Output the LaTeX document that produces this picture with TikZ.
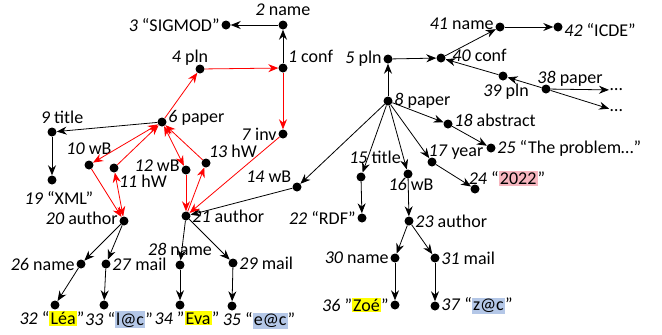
\documentclass[tikz,border=0pt]{standalone}
\usepackage{fontspec}
\setmainfont{Carlito}
\usepackage{xcolor}
\usepackage{tikz}
\usetikzlibrary{arrows.meta}

\definecolor{hlyellow}{HTML}{FFFF00}
\definecolor{hlblue}{HTML}{B4C7E7}
\definecolor{hlpink}{HTML}{F6B6BF}
\newcommand{\hlt}[2]{{\setlength{\fboxsep}{1.2pt}\colorbox{#1}{#2}}}

\begin{document}
\begin{tikzpicture}[x=1pt, y=-1pt,
    font=\fontsize{18}{21}\selectfont,
    dot/.style={circle, fill=black, inner sep=0pt, minimum size=9pt},
    every label/.style={inner sep=1.5pt},
    edgeline/.style={-{Stealth[length=10pt, width=8pt]}, line width=0.8pt},
    rededge/.style={edgeline, red},
    redboth/.style={{Stealth[length=10pt, width=8pt]}-{Stealth[length=10pt, width=8pt]}, line width=0.8pt, red}]
    \useasboundingbox (0,0) rectangle (662,335);

    % Draw left tree nodes
    \node[dot, label={[yshift=3pt]above:{\textit{2} name}}] (n2) at (283,25) {};
    \node[dot, label=left:{\textit{3} “SIGMOD”}] (n3) at (226,25) {};
    \node[dot, label=45:{\textit{1} conf}] (n1) at (283,68) {};
    \node[dot, label={[xshift=-10pt, yshift=-3pt]above:{\textit{4} pln}}] (n4) at (200,69) {};
    \node[dot, label={[yshift=4pt]right:{\textit{6} paper}}] (n6) at (162,122) {};
    \node[dot, label={[xshift=10pt, yshift=2pt]above:{\textit{9} title}}] (n9) at (52,132) {};
    \node[dot, label={[xshift=7pt, yshift=-5pt]below:{\textit{19} “XML”}}] (n19) at (52,180) {};
    \node[dot, label={[yshift=4pt]above:{\textit{10} wB}}] (n10) at (89,165) {};
    \node[dot, label={[yshift=-2pt]below right:{\textit{11} hW}}] (n11) at (114,168) {};
    \node[dot, label={[yshift=4pt]left:{\textit{12} wB}}] (n12) at (186,170) {};
    \node[dot, label={[xshift=-1pt]60:{\textit{13} hW}}] (n13) at (206,163) {};
    \node[dot, label=left:{\textit{7} inv}] (n7) at (283,134) {};
    \node[dot, label=150:{\textit{14} wB}] (n14) at (297,187) {};
    \node[dot, label={[yshift=3pt]left:{\textit{20} author}}] (n20) at (124,221) {};
    \node[dot, label=right:{\textit{21} author}] (n21) at (186,216) {};
    \node[dot, label=left:{\textit{26} name}] (n26) at (81,264) {};
    \node[dot, label=right:{\textit{27} mail}] (n27) at (106,264) {};
    \node[dot, label={[yshift=3pt]above:{\textit{28} name}}] (n28) at (180,265) {};
    \node[dot, label=right:{\textit{29} mail}] (n29) at (233,263) {};
    \node[dot, label={[xshift=-3pt]below:{\textit{32} “\hlt{hlyellow}{Léa}”}}] (n32) at (55,305) {};
    \node[dot, label={[xshift=15pt]below:{\textit{33} “\hlt{hlblue}{l@c}”}}] (n33) at (104,305) {};
    \node[dot, label={[xshift=7pt]below:{\textit{34} "\hlt{hlyellow}{Eva}"}}] (n34) at (180,305) {};
    \node[dot, label={[xshift=27pt]below:{\textit{35} “\hlt{hlblue}{e@c}”}}] (n35) at (232,306) {};

    % Draw right tree nodes
    \node[dot, label=left:{\textit{5} pln}] (n5) at (388,59) {};
    \node[dot, label={[xshift=5pt, yshift=3pt]right:{\textit{40} conf}}] (n40) at (441,58) {};
    \node[dot, label={[yshift=3pt]left:{\textit{41} name}}] (n41) at (500,27) {};
    \node[dot, label={[yshift=-3pt]right:{\textit{42} “ICDE”}}] (n42) at (558,27) {};
    \node[dot, label={[xshift=3pt, yshift=-2pt]below:{\textit{39} pln}}] (n39) at (503,76) {};
    \node[dot, label={[xshift=24pt, yshift=-4pt]above:{\textit{38} paper}}] (n38) at (546,89) {};
    \node[inner sep=1pt, anchor=west] (more1) at (609,90) {…};
    \node[inner sep=1pt, anchor=west] (more2) at (609,111) {…};
    \node[dot, label=right:{\textit{8} paper}] (n8) at (388,101) {};
    \node[dot, label={[yshift=4pt]right:{\textit{18} abstract}}] (n18) at (448,124) {};
    \node[dot, label=right:{\textit{25} “The problem…”}] (n25) at (491,148) {};
    \node[dot, label={[xshift=24pt, yshift=-4pt]above:{\textit{17} year}}] (n17) at (432,162) {};
    \node[dot, label={[xshift=32pt, yshift=-3pt]above:{\textit{24} “\hlt{hlpink}{2022}”}}] (n24) at (475,189) {};
    \node[dot, label={[xshift=14pt, yshift=7pt]above:{\textit{15} title}}] (n15) at (361,177) {};
    \node[dot, label=left:{\textit{22} “RDF”}] (n22) at (362,218) {};
    \node[dot, label={[xshift=3pt, yshift=2pt]below:{\textit{16} wB}}] (n16) at (408,174) {};
    \node[dot, label=right:{\textit{23} author}] (n23) at (409,221) {};
    \node[dot, label=left:{\textit{30} name}] (n30) at (395,258) {};
    \node[dot, label=right:{\textit{31} mail}] (n31) at (435,258) {};
    \node[dot, label=left:{\textit{36} "\hlt{hlyellow}{Zoé}"}] (n36) at (395,305) {};
    \node[dot, label=right:{\textit{37} “\hlt{hlblue}{z@c}”}] (n37) at (435,306) {};

    % Draw black edges
    \foreach \a/\b in {n1/n2, n2/n3, n6/n9, n9/n19, n20/n26, n20/n27, n26/n32,
        n27/n33, n21/n28, n21/n29, n28/n34, n29/n35, n14/n21, n8/n14,
        n8/n5, n5/n40, n40/n41, n41/n42, n39/n40, n38/n39, n38/more1,
        n38/more2, n8/n18, n18/n25, n8/n17, n17/n24, n8/n15, n15/n22,
        n8/n16, n16/n23, n23/n30, n23/n31, n30/n36, n31/n37}
      \draw[edgeline] (\a) -- (\b);

    % Draw red edges
    \foreach \a/\b in {n6/n4, n4/n1, n1/n7, n7/n21, n11/n6, n10/n20,
        n13/n6, n12/n21, n21/n13}
      \draw[rededge] (\a) -- (\b);
    \foreach \a/\b in {n6/n10, n20/n11, n6/n12}
      \draw[redboth] (\a) -- (\b);
\end{tikzpicture}
\end{document}
